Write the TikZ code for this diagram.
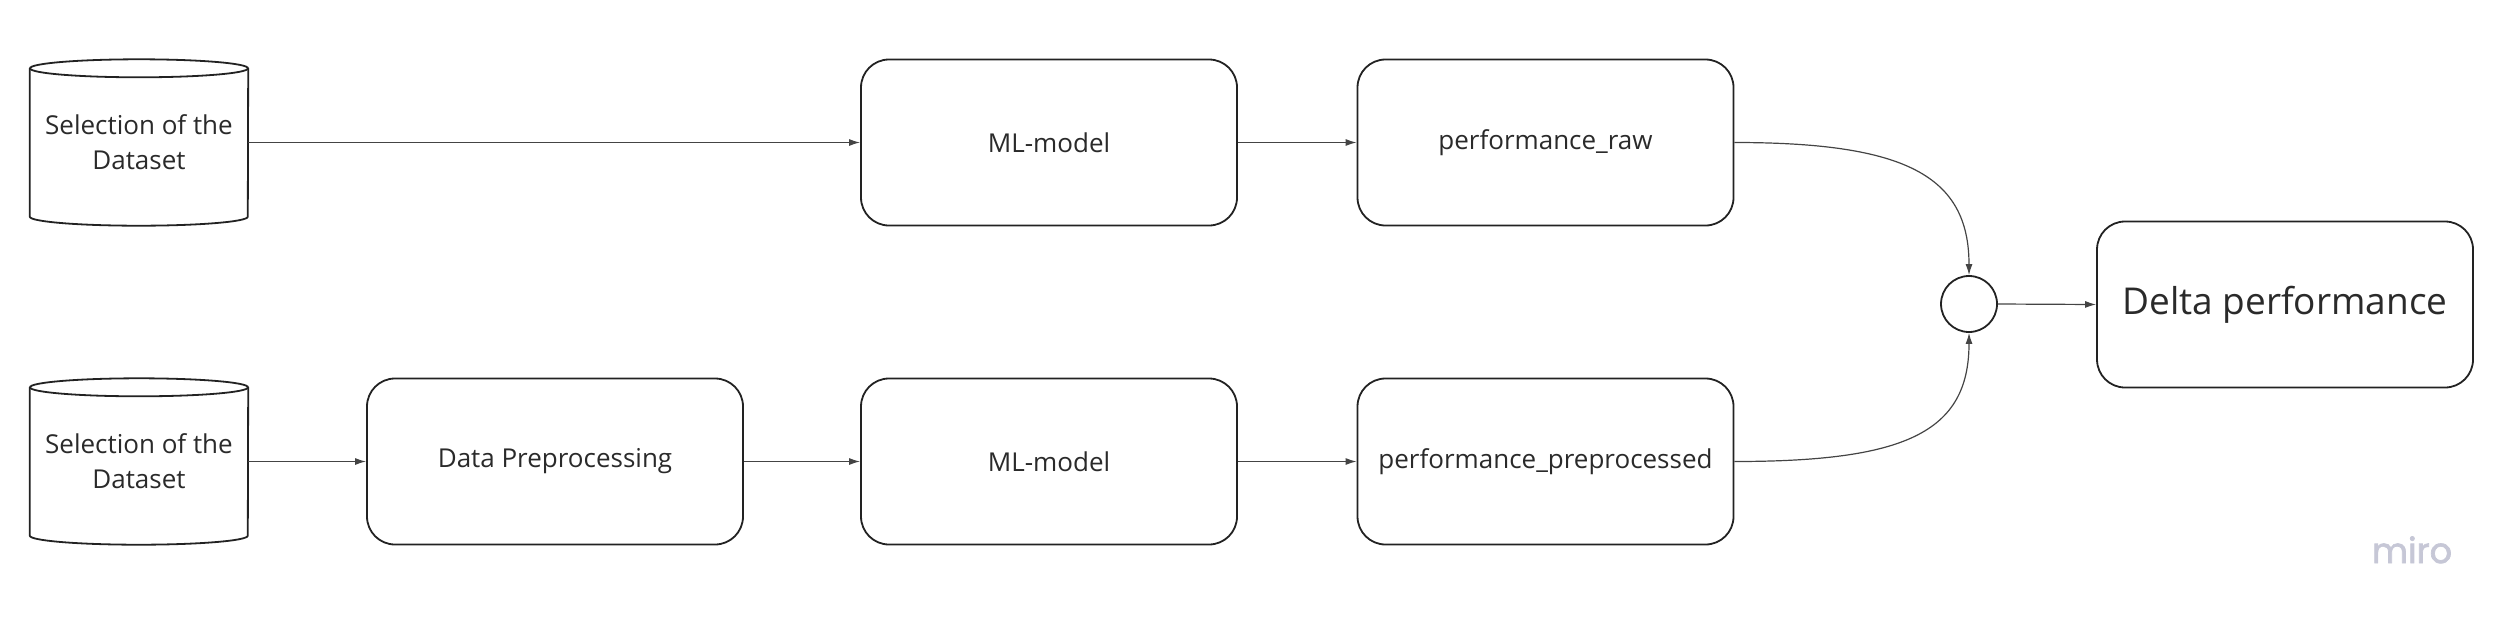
\documentclass[tikz,border=0pt]{standalone}
\usepackage{fontspec}
\setmainfont{Open Sans}
\newfontfamily\mirofont[FakeBold=2]{Poppins}
\usetikzlibrary{arrows.meta}
\definecolor{ink}{HTML}{222222}
\definecolor{txt}{HTML}{2A2A2A}
\definecolor{conn}{HTML}{444444}
\definecolor{mirogrey}{HTML}{C6C7D6}
\tikzset{
  box/.style={draw=ink, line width=1.8pt, rounded corners=28pt, minimum width=376pt, minimum height=166pt, text=txt, font=\fontsize{26}{34}\selectfont, inner sep=0pt},
  dbbox/.style={minimum width=218pt, minimum height=166pt, text=txt, font=\fontsize{26}{35}\selectfont, align=center, inner sep=0pt},
  dbline/.style={draw=ink, line width=1.8pt},
  conn/.style={draw=conn, line width=1.2pt, -{Latex[length=11pt,width=7pt]}},
}
\begin{document}
\begin{tikzpicture}[x=1pt,y=1pt]
\useasboundingbox (0,0) rectangle (2510,-622);
% datasets
\node[dbbox] (ds1) at (139,-142.5) {Selection of the\\Dataset};
\node[dbbox] (ds2) at (139,-461.5) {Selection of the\\Dataset};
\foreach \d in {ds1,ds2}{
  \draw[dbline] ([yshift=-9pt]\d.north west) -- ([yshift=9pt]\d.south west)
     arc[start angle=180,end angle=360,x radius=109pt,y radius=9pt]
     -- ([yshift=-9pt]\d.north east);
  \draw[dbline] ([yshift=-9pt]\d.north) ellipse[x radius=109pt,y radius=9pt];
}
% boxes
\node[box] (ml1) at (1049,-142.5) {ML-model};
\node[box] (raw) at (1545.5,-142.5) {performance\_raw};
\node[box] (pre) at (555,-461.5) {Data Preprocessing};
\node[box] (ml2) at (1049,-461.5) {ML-model};
\node[box] (pp) at (1545.5,-461.5) {performance\_preprocessed};
\node[box, font=\fontsize{37}{46}\selectfont] (delta) at (2285,-304.5) {Delta performance};
\node[draw=ink, line width=1.8pt, circle, minimum size=56pt, inner sep=0pt] (c) at (1969,-304) {};
% connectors
\draw[conn] (ds1.east) -- (ml1.west);
\draw[conn] (ml1.east) -- (raw.west);
\draw[conn] (ds2.east) -- (pre.west);
\draw[conn] (pre.east) -- (ml2.west);
\draw[conn] (ml2.east) -- (pp.west);
\draw[conn] (raw.east) .. controls +(170,0) and +(0,100) .. (c.north);
\draw[conn] (pp.east) .. controls +(170,0) and +(0,-100) .. (c.south);
\draw[conn] (c.east) -- (delta.west);
% logo
\node[text=mirogrey, font=\mirofont\fontsize{35}{40}\selectfont, anchor=base] (miro) at (2412,-563) {miro};
\end{tikzpicture}
\end{document}
